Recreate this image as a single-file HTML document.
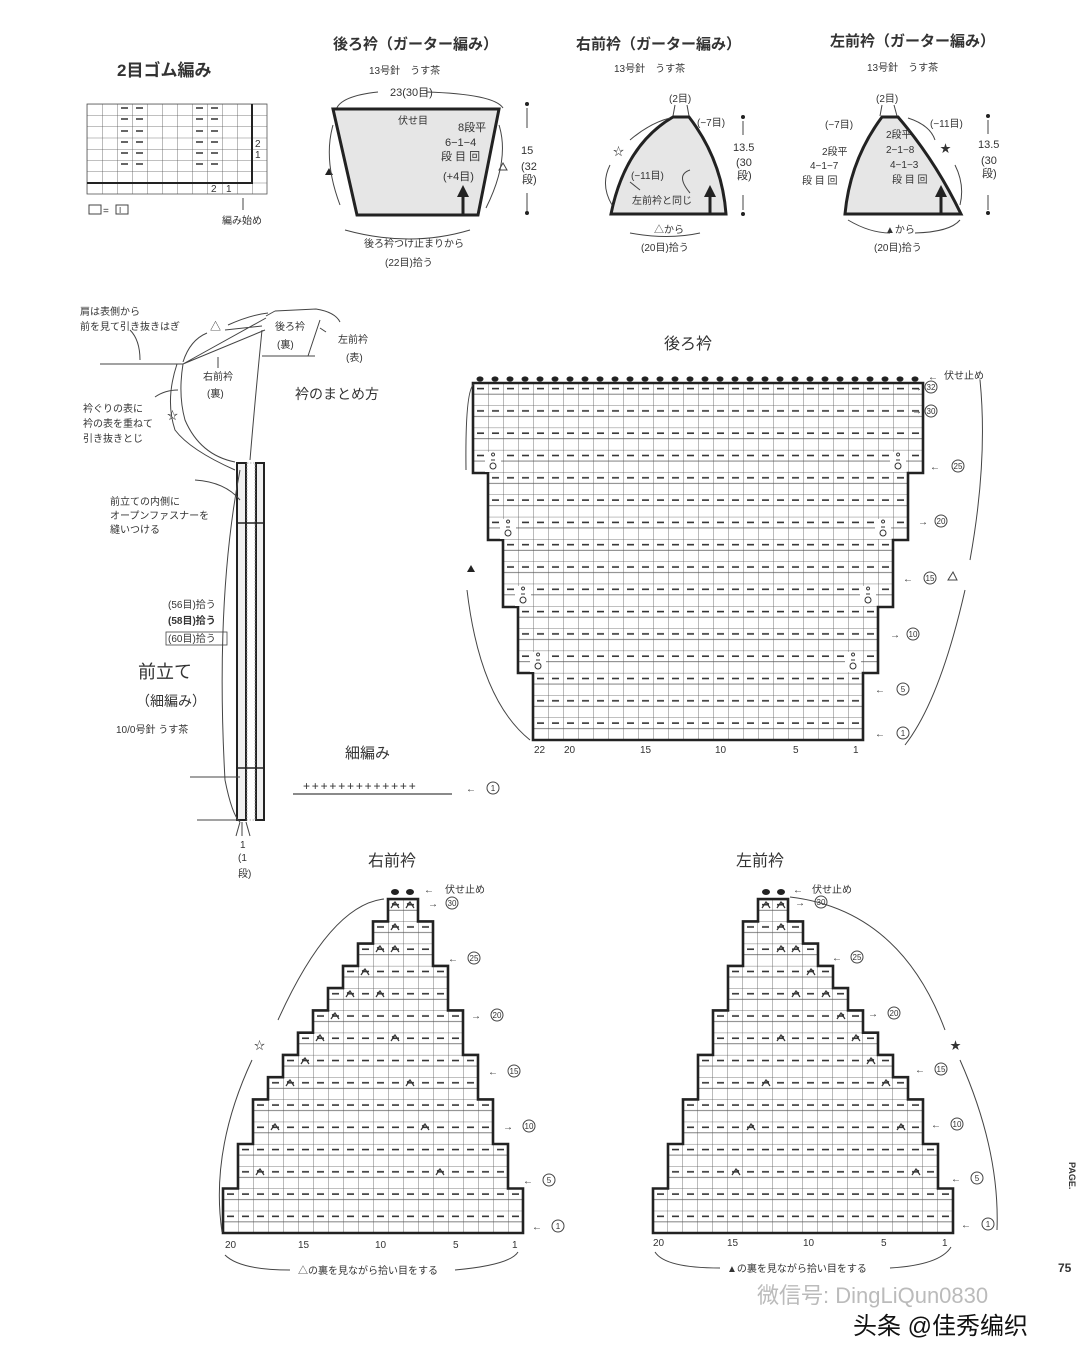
<!DOCTYPE html>
<html><head><meta charset="utf-8"><style>
html,body{margin:0;padding:0;background:#fff}
svg{display:block}
text{font-family:"Liberation Sans","Noto Sans CJK JP",sans-serif;fill:#333}
.s{font-size:10px}
.m{font-size:11px}
.t{font-size:16px;font-weight:bold}
.c{font-size:8px;text-anchor:middle}
.ln{stroke:#444;stroke-width:1;fill:none}
</style></head><body>
<svg width="1080" height="1346" viewBox="0 0 1080 1346" xmlns="http://www.w3.org/2000/svg">
<defs>
<pattern id="pb" x="473" y="383" width="15" height="22.3" patternUnits="userSpaceOnUse">
<rect width="15" height="22.3" fill="#fff"/>
<path d="M0,0H15M0,11.15H15M0,0V22.3" stroke="#555" stroke-width="0.8"/>
<path d="M4,5.6H11" stroke="#333" stroke-width="1.6"/>
</pattern>
<pattern id="pf" x="223" y="899.1" width="15" height="22.26" patternUnits="userSpaceOnUse">
<rect width="15" height="22.26" fill="#fff"/>
<path d="M0,0H15M0,11.13H15M0,0V22.26" stroke="#555" stroke-width="0.8"/>
<path d="M4,5.6H11" stroke="#333" stroke-width="1.6"/>
</pattern>
<pattern id="pg" x="87" y="104" width="15" height="11.25" patternUnits="userSpaceOnUse">
<path d="M0,0H15M0,0V11.25" stroke="#555" stroke-width="0.8"/>
</pattern>
<g id="dec"><path d="M-4,3L0,-3L4,3M-3,-1L-1,-2" stroke="#333" stroke-width="1.2" fill="none"/></g>
<g id="inc"><circle cx="0" cy="4" r="3" fill="none" stroke="#333" stroke-width="1"/><path d="M-2,-2H2M0,-6a1.5,1.5 0 1 1 0.1,0" stroke="#333" stroke-width="1" fill="none"/></g>
<g id="frontgrid">
<polygon points="223,1233 223,1188.5 238,1188.5 238,1144 253,1144 253,1099.4 268,1099.4 268,1077.2 283,1077.2 283,1054.9 298,1054.9 298,1032.7 313,1032.7 313,1010.4 328,1010.4 328,988.1 343,988.1 343,965.9 358,965.9 358,943.6 373,943.6 373,921.4 388,921.4 388,899.1 418,899.1 418,921.4 433,921.4 433,965.9 448,965.9 448,1010.4 463,1010.4 463,1054.9 478,1054.9 478,1099.4 493,1099.4 493,1144 508,1144 508,1188.5 523,1188.5 523,1233" fill="url(#pf)" stroke="#222" stroke-width="2.6"/>
<use href="#dec" x="395" y="905"/><use href="#dec" x="410" y="905"/>
<use href="#dec" x="395" y="927"/>
<use href="#dec" x="380" y="949"/><use href="#dec" x="395" y="949"/>
<use href="#dec" x="365" y="972"/>
<use href="#dec" x="350" y="994"/><use href="#dec" x="380" y="994"/>
<use href="#dec" x="335" y="1016"/>
<use href="#dec" x="320" y="1038"/><use href="#dec" x="395" y="1038"/>
<use href="#dec" x="305" y="1061"/>
<use href="#dec" x="290" y="1083"/><use href="#dec" x="410" y="1083"/>
<use href="#dec" x="275" y="1127"/><use href="#dec" x="425" y="1127"/>
<use href="#dec" x="260" y="1172"/><use href="#dec" x="440" y="1172"/>
<ellipse cx="395" cy="892" rx="4" ry="3" fill="#222"/><ellipse cx="410" cy="892" rx="4" ry="3" fill="#222"/>
</g>
</defs>
<rect width="1080" height="1346" fill="#fff"/>

<!-- 2目ゴム編み -->
<text x="117" y="76" style="font-size:17px;font-weight:bold">2目ゴム編み</text>
<rect x="87" y="104" width="180" height="90" fill="url(#pg)" stroke="#555" stroke-width="0.8"/>
<path d="M87,183H252V104" stroke="#222" stroke-width="2" fill="none"/>
<g stroke="#333" stroke-width="1.4">
<path d="M121,108h7M136,108h7M196,108h7M211,108h7"/>
<path d="M121,119h7M136,119h7M196,119h7M211,119h7"/>
<path d="M121,131h7M136,131h7M196,131h7M211,131h7"/>
<path d="M121,142h7M136,142h7M196,142h7M211,142h7"/>
<path d="M121,153h7M136,153h7M196,153h7M211,153h7"/>
<path d="M121,164h7M136,164h7M196,164h7M211,164h7"/>
</g>
<text x="255" y="147" class="s">2</text><text x="255" y="158" class="s">1</text>
<text x="211" y="192" class="s">2</text><text x="226" y="192" class="s">1</text>
<rect x="89" y="205" width="12" height="9" fill="none" stroke="#444"/><text x="103" y="214" class="s">=</text><rect x="116" y="205" width="12" height="9" fill="none" stroke="#444"/><text x="119" y="213" style="font-size:8px">I</text>
<path d="M243,210V198" class="ln"/><text x="222" y="224" class="s">編み始め</text>

<!-- 後ろ衿 schematic -->
<text x="333" y="49" class="t" style="font-size:15px">後ろ衿（ガーター編み）</text>
<text x="369" y="74" class="s">13号針　うす茶</text>
<text x="390" y="96" class="m">23(30目)</text>
<path d="M336,110Q340,96 378,92M426,92Q494,94 503,108" class="ln"/>
<polygon points="333,109 499,109 478,215 357,215" fill="#e6e6e6" stroke="#222" stroke-width="3"/>
<path d="M463,215V195" stroke="#222" stroke-width="3"/><polygon points="457,197 469,197 463,185" fill="#222"/>
<text x="398" y="124" class="s">伏せ目</text>
<text x="458" y="131" class="m">8段平</text><text x="445" y="146" class="m">6−1−4</text><text x="441" y="160" class="m">段 目 回</text><text x="443" y="180" class="m">(+4目)</text>
<polygon points="325,175 333,175 329,168" fill="#222"/>
<polygon points="499,170 507,170 503,163" fill="none" stroke="#444"/>
<path d="M333,125Q323,160 340,205M499,125Q510,160 486,208M345,230Q410,248 470,230" class="ln"/>
<circle cx="527" cy="104" r="2" fill="#222"/><path d="M527,108V128M527,193V211" class="ln"/><circle cx="527" cy="213" r="2" fill="#222"/>
<text x="521" y="154" class="m">15</text><text x="521" y="170" class="m">(32</text><text x="522" y="183" class="m">段)</text>
<text x="364" y="247" class="s">後ろ衿つけ止まりから</text><text x="385" y="266" class="s">(22目)拾う</text>

<!-- 右前衿 schematic -->
<text x="576" y="49" class="t" style="font-size:15px">右前衿（ガーター編み）</text>
<text x="614" y="72" class="s">13号針　うす茶</text>
<text x="669" y="102" class="s">(2目)</text>
<path d="M675,105L673,116M687,105L689,116" class="ln"/>
<path d="M611,214Q625,145 673,117L689,117Q722,160 726,214Z" fill="#e6e6e6" stroke="#222" stroke-width="3"/>
<path d="M710,214V195" stroke="#222" stroke-width="3"/><polygon points="704,197 716,197 710,185" fill="#222"/>
<text x="697" y="126" class="s">(−7目)</text>
<text x="613" y="155" class="m">☆</text>
<text x="631" y="179" class="s">(−11目)</text>
<text x="632" y="204" class="s">左前衿と同じ</text>
<path d="M630,140Q650,123 670,118M610,165Q600,185 612,205M630,182L640,190M690,170Q675,175 690,193M630,233Q668,240 700,233" class="ln"/>
<text x="654" y="233" class="s">△から</text><text x="641" y="251" class="s">(20目)拾う</text>
<circle cx="743" cy="117" r="2" fill="#222"/><path d="M743,121V135M743,195V210" class="ln"/><circle cx="743" cy="214" r="2" fill="#222"/>
<text x="733" y="151" class="m">13.5</text><text x="736" y="166" class="m">(30</text><text x="737" y="179" class="m">段)</text>

<!-- 左前衿 schematic -->
<text x="830" y="46" class="t" style="font-size:15px">左前衿（ガーター編み）</text>
<text x="867" y="71" class="s">13号針　うす茶</text>
<text x="876" y="102" class="s">(2目)</text>
<path d="M882,105L880,116M894,105L897,116" class="ln"/>
<path d="M845,214Q850,160 882,117L898,117Q935,160 961,214Z" fill="#e6e6e6" stroke="#222" stroke-width="3"/>
<path d="M941,214V195" stroke="#222" stroke-width="3"/><polygon points="935,197 947,197 941,185" fill="#222"/>
<text x="825" y="128" class="s">(−7目)</text><text x="930" y="127" class="s">(−11目)</text>
<text x="886" y="138" class="s">2段平</text><text x="886" y="153" class="s">2−1−8</text><text x="890" y="168" class="s">4−1−3</text><text x="892" y="183" class="s">段 目 回</text>
<text x="822" y="155" class="s">2段平</text><text x="810" y="169" class="s">4−1−7</text><text x="802" y="184" class="s">段 目 回</text>
<text x="940" y="152" class="m">★</text>
<path d="M908,118Q930,125 935,140M955,165Q965,185 960,205M848,220Q870,233 890,233M915,233Q950,232 960,220" class="ln"/>
<text x="885" y="233" class="s">▲から</text><text x="874" y="251" class="s">(20目)拾う</text>
<circle cx="988" cy="116" r="2" fill="#222"/><path d="M988,120V134M988,195V210" class="ln"/><circle cx="988" cy="213" r="2" fill="#222"/>
<text x="978" y="148" class="m">13.5</text><text x="981" y="164" class="m">(30</text><text x="982" y="177" class="m">段)</text>

<!-- assembly diagram -->
<text x="80" y="315" class="s">肩は表側から</text><text x="80" y="330" class="s">前を見て引き抜きはぎ</text>
<path d="M100,364H183M130,330Q140,340 140,360" class="ln"/>
<text x="210" y="330" class="m">△</text>
<path d="M183,362Q190,340 207,333M183,364L265,330M183,364L266,318M228,325Q250,315 268,313M225,330L262,326M275,311L316,309Q335,312 340,322M266,316L275,311M262,356H315M320,320L308,356M183,364Q178,395 185,420Q200,455 235,462M177,364Q165,400 175,430Q190,450 235,470M262,330Q255,400 250,460M218,357V368M320,328L326,332" class="ln"/>
<text x="275" y="330" class="s">後ろ衿</text><text x="277" y="348" class="s">(裏)</text>
<text x="338" y="343" class="s">左前衿</text><text x="346" y="361" class="s">(表)</text>
<text x="203" y="380" class="s">右前衿</text><text x="207" y="397" class="s">(裏)</text>
<text x="295" y="399" style="font-size:14px">衿のまとめ方</text>
<text x="83" y="412" class="s">衿ぐりの表に</text><text x="83" y="427" class="s">衿の表を重ねて</text><text x="83" y="442" class="s">引き抜きとじ</text>
<text x="167" y="419" class="m">☆</text>
<path d="M155,397Q165,390 178,390" class="ln"/>

<!-- placket -->
<rect x="237" y="463" width="9" height="357" fill="#f0f0f0" stroke="#222" stroke-width="2"/>
<rect x="256" y="463" width="8" height="357" fill="#f0f0f0" stroke="#222" stroke-width="2"/>
<rect x="247" y="463" width="8" height="357" fill="none" stroke="#999" stroke-width="0.8" stroke-dasharray="1.5,1.5"/>
<path d="M237,523H264M237,768H264" stroke="#222" stroke-width="1.5"/>
<path d="M195,480Q225,482 240,500M240,470Q215,600 225,780Q232,815 240,822M190,777H240M197,820H240M242,822V836M240,822L236,836M246,822L250,836" class="ln"/>
<text x="110" y="505" class="s">前立ての内側に</text><text x="110" y="519" class="s">オープンファスナーを</text><text x="110" y="533" class="s">縫いつける</text>
<text x="168" y="608" class="s">(56目)拾う</text>
<text x="168" y="624" class="s" style="font-weight:bold">(58目)拾う</text>
<rect x="166" y="632" width="61" height="13" fill="none" stroke="#444" stroke-width="0.8"/><text x="168" y="642" class="s">(60目)拾う</text>
<text x="138" y="678" style="font-size:18px">前立て</text>
<text x="136" y="706" style="font-size:14px">（細編み）</text>
<text x="116" y="733" class="s">10/0号針 うす茶</text>
<text x="240" y="848" class="s">1</text><text x="238" y="861" class="s">(1</text><text x="238" y="877" class="s">段)</text>

<!-- 細編み -->
<text x="345" y="758" style="font-size:15px">細編み</text>
<path d="M293,794H452" stroke="#444" stroke-width="1.2"/>
<text x="303" y="790" style="font-size:12px;letter-spacing:1.8px">+++++++++++++</text>
<text x="466" y="792" class="s">←</text><circle cx="493" cy="788" r="6" fill="none" stroke="#444"/><text x="493" y="791" class="c">1</text>

<!-- 後ろ衿 chart -->
<text x="664" y="349" style="font-size:16px">後ろ衿</text>
<polygon points="473,383 923,383 923,473 908,473 908,540 893,540 893,607 878,607 878,673 863,673 863,740 533,740 533,673 518,673 518,607 503,607 503,540 488,540 488,473 473,473" fill="url(#pb)" stroke="#222" stroke-width="2.6"/>
<g fill="#222">
<ellipse cx="480" cy="379" rx="3.5" ry="2.6"/><ellipse cx="495" cy="379" rx="3.5" ry="2.6"/><ellipse cx="510" cy="379" rx="3.5" ry="2.6"/><ellipse cx="525" cy="379" rx="3.5" ry="2.6"/><ellipse cx="540" cy="379" rx="3.5" ry="2.6"/><ellipse cx="555" cy="379" rx="3.5" ry="2.6"/><ellipse cx="570" cy="379" rx="3.5" ry="2.6"/><ellipse cx="585" cy="379" rx="3.5" ry="2.6"/><ellipse cx="600" cy="379" rx="3.5" ry="2.6"/><ellipse cx="615" cy="379" rx="3.5" ry="2.6"/><ellipse cx="630" cy="379" rx="3.5" ry="2.6"/><ellipse cx="645" cy="379" rx="3.5" ry="2.6"/><ellipse cx="660" cy="379" rx="3.5" ry="2.6"/><ellipse cx="675" cy="379" rx="3.5" ry="2.6"/><ellipse cx="690" cy="379" rx="3.5" ry="2.6"/><ellipse cx="705" cy="379" rx="3.5" ry="2.6"/><ellipse cx="720" cy="379" rx="3.5" ry="2.6"/><ellipse cx="735" cy="379" rx="3.5" ry="2.6"/><ellipse cx="750" cy="379" rx="3.5" ry="2.6"/><ellipse cx="765" cy="379" rx="3.5" ry="2.6"/><ellipse cx="780" cy="379" rx="3.5" ry="2.6"/><ellipse cx="795" cy="379" rx="3.5" ry="2.6"/><ellipse cx="810" cy="379" rx="3.5" ry="2.6"/><ellipse cx="825" cy="379" rx="3.5" ry="2.6"/><ellipse cx="840" cy="379" rx="3.5" ry="2.6"/><ellipse cx="855" cy="379" rx="3.5" ry="2.6"/><ellipse cx="870" cy="379" rx="3.5" ry="2.6"/><ellipse cx="885" cy="379" rx="3.5" ry="2.6"/><ellipse cx="900" cy="379" rx="3.5" ry="2.6"/><ellipse cx="915" cy="379" rx="3.5" ry="2.6"/>
</g>
<rect x="485" y="452" width="16" height="20" fill="#fff"/><use href="#inc" x="493" y="462"/>
<rect x="890" y="452" width="16" height="20" fill="#fff"/><use href="#inc" x="898" y="462"/>
<rect x="500" y="519" width="16" height="20" fill="#fff"/><use href="#inc" x="508" y="529"/>
<rect x="875" y="519" width="16" height="20" fill="#fff"/><use href="#inc" x="883" y="529"/>
<rect x="515" y="586" width="16" height="20" fill="#fff"/><use href="#inc" x="523" y="596"/>
<rect x="860" y="586" width="16" height="20" fill="#fff"/><use href="#inc" x="868" y="596"/>
<rect x="530" y="652" width="16" height="20" fill="#fff"/><use href="#inc" x="538" y="662"/>
<rect x="845" y="652" width="16" height="20" fill="#fff"/><use href="#inc" x="853" y="662"/>
<text x="928" y="380" class="s">←</text><text x="944" y="379" class="s">伏せ止め</text>
<g class="s">
<text x="912" y="391">→</text><circle cx="931" cy="387" r="6" fill="none" stroke="#444"/><text x="931" y="390" class="c">32</text>
<text x="912" y="414">→</text><circle cx="931" cy="411" r="6" fill="none" stroke="#444"/><text x="931" y="414" class="c">30</text>
<text x="930" y="470">←</text><circle cx="958" cy="466" r="6" fill="none" stroke="#444"/><text x="958" y="469" class="c">25</text>
<text x="918" y="525">→</text><circle cx="941" cy="521" r="6" fill="none" stroke="#444"/><text x="941" y="524" class="c">20</text>
<text x="903" y="582">←</text><circle cx="930" cy="578" r="6" fill="none" stroke="#444"/><text x="930" y="581" class="c">15</text>
<text x="890" y="638">→</text><circle cx="913" cy="634" r="6" fill="none" stroke="#444"/><text x="913" y="637" class="c">10</text>
<text x="875" y="693">←</text><circle cx="903" cy="689" r="6" fill="none" stroke="#444"/><text x="903" y="692" class="c">5</text>
<text x="875" y="737">←</text><circle cx="903" cy="733" r="6" fill="none" stroke="#444"/><text x="903" y="736" class="c">1</text>
</g>
<g class="s"><text x="534" y="753">22</text><text x="564" y="753">20</text><text x="640" y="753">15</text><text x="715" y="753">10</text><text x="793" y="753">5</text><text x="853" y="753">1</text></g>
<polygon points="467,572 475,572 471,565" fill="#222"/>
<polygon points="948,580 957,580 953,572" fill="none" stroke="#444"/>
<path d="M474,384Q465,390 466,470M467,590Q480,700 530,740M980,380Q988,460 970,560M965,590Q940,700 905,745" class="ln"/>

<!-- 右前衿 chart -->
<text x="368" y="866" style="font-size:16px">右前衿</text>
<use href="#frontgrid"/>
<text x="424" y="893" class="s">←</text><text x="445" y="893" class="s">伏せ止め</text>
<g class="s">
<text x="428" y="907">→</text><circle cx="452" cy="903" r="6" fill="none" stroke="#444"/><text x="452" y="906" class="c">30</text>
<text x="448" y="962">←</text><circle cx="474" cy="958" r="6" fill="none" stroke="#444"/><text x="474" y="961" class="c">25</text>
<text x="471" y="1019">→</text><circle cx="497" cy="1015" r="6" fill="none" stroke="#444"/><text x="497" y="1018" class="c">20</text>
<text x="488" y="1075">←</text><circle cx="514" cy="1071" r="6" fill="none" stroke="#444"/><text x="514" y="1074" class="c">15</text>
<text x="503" y="1130">→</text><circle cx="529" cy="1126" r="6" fill="none" stroke="#444"/><text x="529" y="1129" class="c">10</text>
<text x="523" y="1184">←</text><circle cx="549" cy="1180" r="6" fill="none" stroke="#444"/><text x="549" y="1183" class="c">5</text>
<text x="532" y="1230">←</text><circle cx="558" cy="1226" r="6" fill="none" stroke="#444"/><text x="558" y="1229" class="c">1</text>
</g>
<g class="s"><text x="225" y="1248">20</text><text x="298" y="1248">15</text><text x="375" y="1248">10</text><text x="453" y="1248">5</text><text x="512" y="1248">1</text></g>
<text x="254" y="1049" class="m">☆</text>
<path d="M384,899Q330,905 278,1020M252,1060Q210,1150 222,1232M225,1255Q240,1270 290,1270M455,1270Q510,1265 518,1252" class="ln"/>
<text x="298" y="1274" class="s">△の裏を見ながら拾い目をする</text>

<!-- 左前衿 chart -->
<text x="736" y="866" style="font-size:16px">左前衿</text>
<use href="#frontgrid" transform="translate(1176,0) scale(-1,1)"/>
<text x="793" y="893" class="s">←</text><text x="812" y="893" class="s">伏せ止め</text>
<g class="s">
<text x="795" y="906">→</text><circle cx="821" cy="902" r="6" fill="none" stroke="#444"/><text x="821" y="905" class="c">30</text>
<text x="832" y="961">←</text><circle cx="857" cy="957" r="6" fill="none" stroke="#444"/><text x="857" y="960" class="c">25</text>
<text x="868" y="1017">→</text><circle cx="894" cy="1013" r="6" fill="none" stroke="#444"/><text x="894" y="1016" class="c">20</text>
<text x="915" y="1073">←</text><circle cx="941" cy="1069" r="6" fill="none" stroke="#444"/><text x="941" y="1072" class="c">15</text>
<text x="931" y="1128">←</text><circle cx="957" cy="1124" r="6" fill="none" stroke="#444"/><text x="957" y="1127" class="c">10</text>
<text x="951" y="1182">←</text><circle cx="977" cy="1178" r="6" fill="none" stroke="#444"/><text x="977" y="1181" class="c">5</text>
<text x="961" y="1228">←</text><circle cx="988" cy="1224" r="6" fill="none" stroke="#444"/><text x="988" y="1227" class="c">1</text>
</g>
<g class="s"><text x="653" y="1246">20</text><text x="727" y="1246">15</text><text x="803" y="1246">10</text><text x="881" y="1246">5</text><text x="942" y="1246">1</text></g>
<text x="950" y="1049" class="m">★</text>
<path d="M790,897Q900,910 945,1030M960,1060Q1000,1150 997,1230M655,1252Q665,1268 720,1268M890,1268Q940,1265 951,1247" class="ln"/>
<text x="727" y="1272" class="s">▲の裏を見ながら拾い目をする</text>

<!-- page -->
<text x="1058" y="1272" style="font-size:12px;font-weight:bold">75</text>
<text transform="translate(1069,1162) rotate(90)" style="font-size:9px;font-weight:bold">PAGE.</text>
<text x="757" y="1303" style="font-size:22px;fill:#bbb">微信号: DingLiQun0830</text>
<text x="853" y="1334" style="font-size:24px;fill:#111">头条 @佳秀编织</text>
</svg>
</body></html>
